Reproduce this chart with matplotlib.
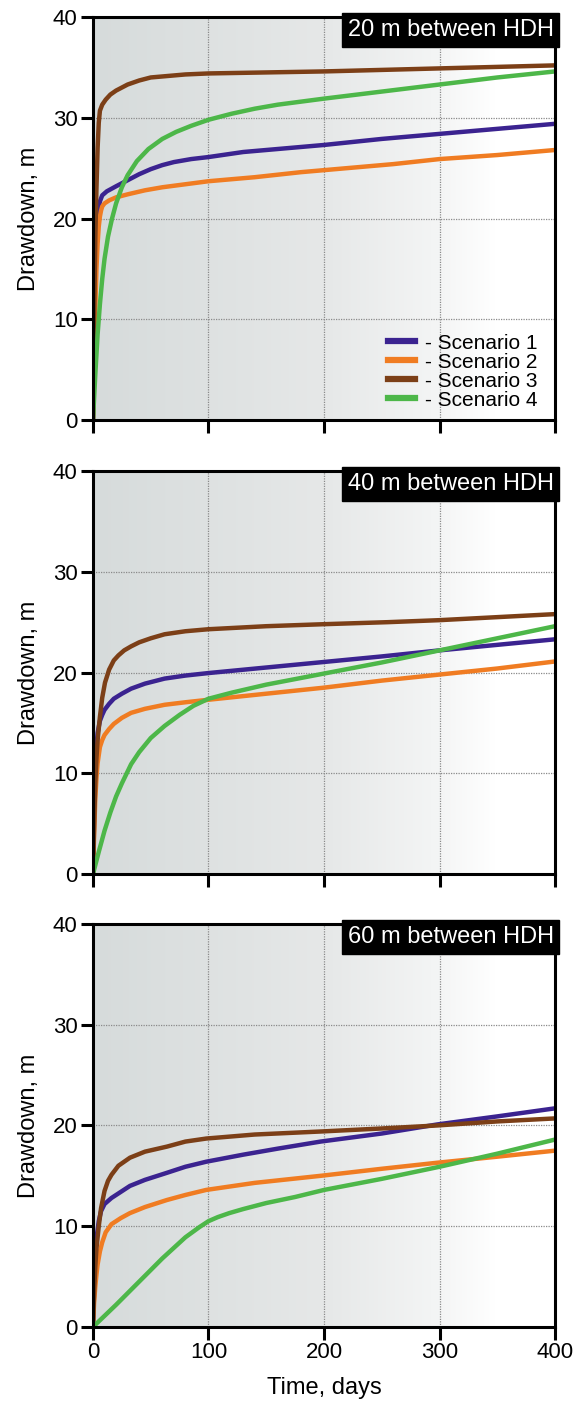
import numpy as np
import matplotlib
matplotlib.use('Agg')
import matplotlib.pyplot as plt
from matplotlib.colors import LinearSegmentedColormap

plt.rcParams['font.family'] = ['Liberation Sans', 'DejaVu Sans']

# --- data (time in days, drawdown in m) ---
panel_titles = ['20 m between HDH', '40 m between HDH', '60 m between HDH']
scenario_names = ['- Scenario 1', '- Scenario 2', '- Scenario 3', '- Scenario 4']
scenario_colors = ['#3b2390', '#f07c22', '#7c3f17', '#4db749']

# 20 m
p1_s1_t = [0, 1, 2, 3, 4, 5, 6, 8, 12, 20, 30, 40, 50, 60, 70, 85, 100, 130, 160, 200, 250, 300, 350, 400]
p1_s1_y = [0, 9, 15, 18.5, 20.2, 21.1, 21.7, 22.3, 22.7, 23.2, 23.8, 24.4, 24.9, 25.3, 25.6, 25.9, 26.1, 26.6, 26.9, 27.3, 27.9, 28.4, 28.9, 29.4]
p1_s2_t = [0, 1, 2, 3, 4, 5, 6, 7, 8, 10, 14, 20, 30, 45, 60, 80, 100, 140, 180, 220, 260, 300, 350, 400]
p1_s2_y = [0, 6, 11, 15, 17.5, 19.2, 20.2, 20.8, 21.2, 21.5, 21.8, 22.1, 22.4, 22.8, 23.1, 23.4, 23.7, 24.1, 24.6, 25.0, 25.4, 25.9, 26.3, 26.8]
p1_s3_t = [0, 1, 2, 3, 4, 5, 6, 8, 11, 15, 20, 25, 30, 40, 50, 60, 80, 100, 150, 200, 300, 400]
p1_s3_y = [0, 10, 18, 23, 27, 29.5, 30.7, 31.3, 31.8, 32.3, 32.7, 33.0, 33.3, 33.7, 34.0, 34.1, 34.3, 34.4, 34.5, 34.6, 34.9, 35.2]
p1_s4_t = [0, 2, 4, 6, 8, 10, 13, 16.5, 20, 25, 30, 38, 48, 60, 72, 85, 100, 120, 140, 160, 180, 200, 250, 300, 350, 400]
p1_s4_y = [0, 4.5, 8.5, 11.5, 14, 16, 18.2, 20, 21.5, 23.1, 24.3, 25.7, 26.9, 27.9, 28.6, 29.2, 29.8, 30.4, 30.9, 31.3, 31.6, 31.9, 32.6, 33.3, 34.0, 34.6]

# 40 m
p2_s1_t = [0, 1, 2, 3, 4, 6, 8, 10, 14, 18, 25, 33, 45, 62, 80, 100, 150, 200, 250, 300, 350, 400]
p2_s1_y = [0, 6, 10, 12.5, 14, 15.2, 15.8, 16.3, 16.9, 17.4, 17.9, 18.4, 18.9, 19.4, 19.7, 19.95, 20.5, 21.05, 21.6, 22.2, 22.75, 23.3]
p2_s2_t = [0, 1, 2, 3, 4, 6, 8, 10, 14, 18, 25, 33, 45, 62, 80, 100, 150, 200, 250, 300, 350, 400]
p2_s2_y = [0, 4, 7.5, 9.5, 11, 12.6, 13.3, 13.8, 14.4, 14.9, 15.5, 16.0, 16.4, 16.8, 17.05, 17.3, 17.9, 18.5, 19.2, 19.8, 20.4, 21.1]
p2_s3_t = [0, 1, 2, 3, 4, 6, 8, 10.4, 14, 18, 22, 27, 33, 40, 50, 62, 80, 100, 150, 200, 255, 300, 350, 400]
p2_s3_y = [0, 5, 9, 11.5, 13.3, 15.6, 17.5, 19.0, 20.3, 21.2, 21.7, 22.2, 22.6, 23.0, 23.4, 23.8, 24.1, 24.3, 24.6, 24.8, 25.0, 25.2, 25.5, 25.8]
p2_s4_t = [0, 5, 10, 15, 20, 25, 33, 40, 50, 62, 75, 87, 100, 120, 150, 200, 250, 300, 350, 400]
p2_s4_y = [0, 2.2, 4.3, 6.1, 7.7, 9.0, 10.9, 12.1, 13.5, 14.7, 15.8, 16.7, 17.4, 18.0, 18.8, 19.9, 21.0, 22.2, 23.4, 24.6]

# 60 m
p3_s1_t = [0, 1, 2, 3, 5, 7, 10, 16, 24, 32, 45, 64, 80, 98, 130, 160, 197, 250, 298, 350, 400]
p3_s1_y = [0, 4, 7, 8.8, 10.5, 11.5, 12.2, 12.8, 13.4, 14.0, 14.6, 15.3, 15.9, 16.4, 17.1, 17.7, 18.4, 19.2, 20.1, 20.9, 21.7]
p3_s2_t = [0, 1, 2, 3, 4, 6, 8, 11, 16, 24, 32, 45, 64, 80, 98, 140, 197, 250, 298, 350, 400]
p3_s2_y = [0, 2.5, 4, 5.2, 6.2, 7.5, 8.4, 9.4, 10.2, 10.8, 11.3, 11.9, 12.6, 13.1, 13.6, 14.3, 15.0, 15.7, 16.3, 16.9, 17.5]
p3_s3_t = [0, 1, 2, 3, 5, 7, 10, 13, 16, 22, 32, 45, 64, 80, 98, 140, 197, 250, 298, 350, 400]
p3_s3_y = [0, 3.5, 6, 7.8, 10, 11.8, 13.5, 14.5, 15.1, 16.0, 16.8, 17.4, 17.9, 18.4, 18.7, 19.1, 19.4, 19.7, 20.0, 20.4, 20.7]
p3_s4_t = [0, 20, 40, 60, 80, 92, 100, 108, 118, 130, 150, 175, 200, 250, 300, 350, 400]
p3_s4_y = [0, 2.2, 4.5, 6.8, 8.9, 9.9, 10.5, 10.9, 11.3, 11.7, 12.3, 12.9, 13.6, 14.7, 15.9, 17.2, 18.6]

panels = [
    [(p1_s1_t, p1_s1_y), (p1_s2_t, p1_s2_y), (p1_s3_t, p1_s3_y), (p1_s4_t, p1_s4_y)],
    [(p2_s1_t, p2_s1_y), (p2_s2_t, p2_s2_y), (p2_s3_t, p2_s3_y), (p2_s4_t, p2_s4_y)],
    [(p3_s1_t, p3_s1_y), (p3_s2_t, p3_s2_y), (p3_s3_t, p3_s3_y), (p3_s4_t, p3_s4_y)],
]

x_ticks = [0, 100, 200, 300, 400]
y_ticks = [0, 10, 20, 30, 40]

# grey-to-white background fade
bg_cmap = LinearSegmentedColormap.from_list(
    'bg', [(0.0, '#d6dbdb'), (0.5, '#e6e8e8'), (0.75, '#f4f5f5'), (0.87, '#ffffff'), (1.0, '#ffffff')])
grad = np.linspace(0, 1, 256).reshape(1, -1)

fig = plt.figure(figsize=(5.79, 14.07), dpi=100)
ax_bottoms = [0.7015, 0.3788, 0.0569]
ax_left, ax_width, ax_height = 0.1606, 0.798, 0.2864

for k, series in enumerate(panels):
    ax = fig.add_axes([ax_left, ax_bottoms[k], ax_width, ax_height])
    ax.imshow(grad, cmap=bg_cmap, aspect='auto', extent=[0, 400, 0, 40], zorder=0)
    for (t, y), name, c in zip(series, scenario_names, scenario_colors):
        ax.plot(t, y, color=c, lw=3.2, label=name, zorder=3, solid_joinstyle='round')

    ax.set_xlim(0, 400)
    ax.set_ylim(0, 40)
    ax.set_xticks(x_ticks)
    ax.set_yticks(y_ticks)
    ax.grid(True, color='#8a8a8a', linestyle=(0, (1, 1)), linewidth=0.9, zorder=1)
    ax.set_axisbelow(False)
    for s in ax.spines.values():
        s.set_linewidth(2.2)
        s.set_color('black')
        s.set_zorder(5)
    ax.tick_params(direction='out', length=9, width=2.2, labelsize=16, colors='black', pad=2)
    ax.set_ylabel('Drawdown, m', fontsize=17)
    ax.yaxis.set_label_coords(-0.115, 0.5)
    if k < 2:
        ax.tick_params(axis='x', labelbottom=False)
    else:
        ax.set_xlabel('Time, days', fontsize=17, labelpad=10)

    ax.text(0.997, 0.995, panel_titles[k], transform=ax.transAxes, ha='right', va='top',
            fontsize=17, color='white', zorder=6,
            bbox=dict(boxstyle='square,pad=0.24', facecolor='black', edgecolor='black'))

    if k == 0:
        leg = ax.legend(loc='lower right', frameon=False, fontsize=15, handlelength=1.3,
                        handletextpad=0.5, labelspacing=0.0, borderaxespad=0.1,
                        bbox_to_anchor=(0.985, 0.0))
        for h in leg.get_lines():
            h.set_linewidth(4.5)

fig.savefig('out.png', dpi=100)
